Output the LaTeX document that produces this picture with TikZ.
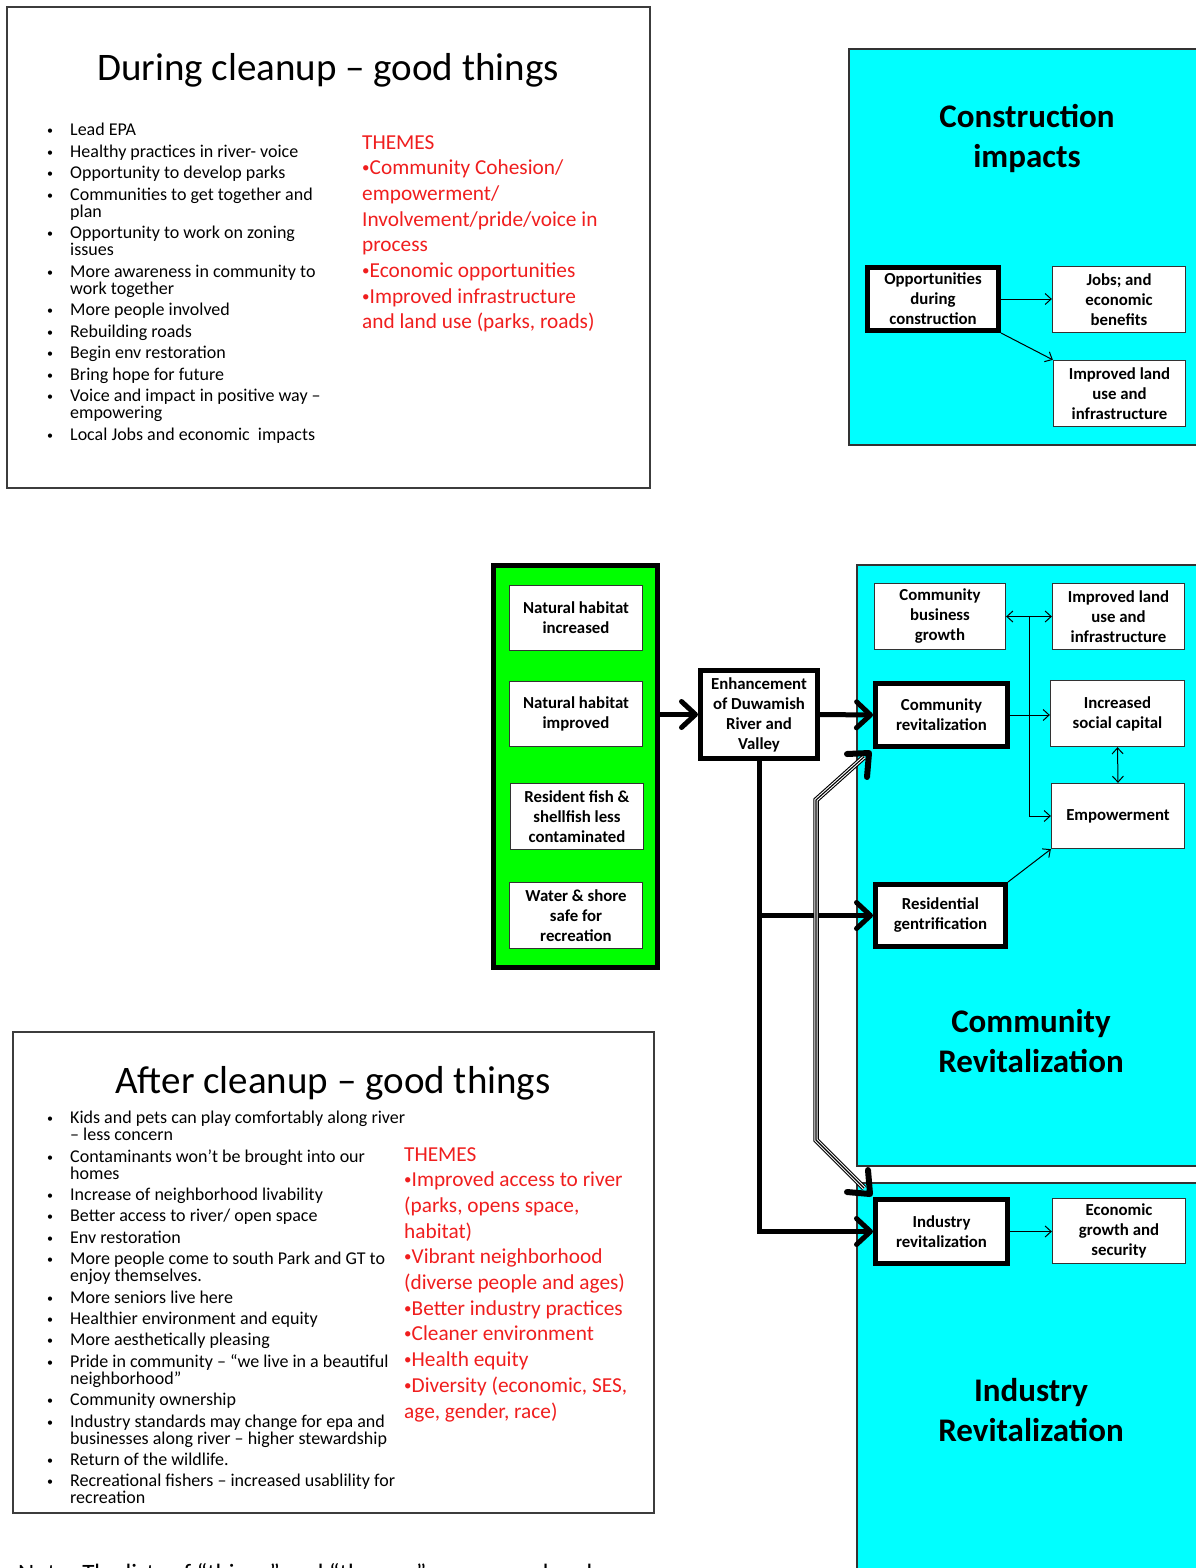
\documentclass[tikz,border=0pt]{standalone}
\usepackage{fontspec}
\setmainfont{Carlito}
\usetikzlibrary{arrows.meta,calc}
\definecolor{cyanbg}{RGB}{0,255,255}
\definecolor{greenbg}{RGB}{0,255,0}
\definecolor{themered}{RGB}{240,30,30}
\definecolor{slideedge}{RGB}{60,60,60}
\newcommand\bulA{\makebox[23pt][l]{\raisebox{1pt}{\fontsize{12}{12}\selectfont •}}}
\newcommand\cntA{\hspace*{23pt}}
\newcommand\tbul{{\fontsize{15}{15}\selectfont\raisebox{2pt}{•}}}
\begin{document}
\begin{tikzpicture}[x=1pt,y=-1pt,
  thinbox/.style={draw=black!80, line width=1.3pt, fill=white, align=center, font=\fontsize{16.8}{20}\selectfont\bfseries, inner sep=1pt},
  thickbox/.style={draw=black, line width=5pt, fill=white, align=center, font=\fontsize{16.8}{20}\selectfont\bfseries, inner sep=1pt},
  sz/.style 2 args={minimum width=#1, minimum height=#2},
  bigtitle/.style={align=center, font=\fontsize{33}{40}\selectfont\bfseries},
  slidetitle/.style={font=\fontsize{39}{44}\selectfont},
  listtxt/.style={align=left, font=\fontsize{18}{17}\selectfont, inner sep=0pt, anchor=north west},
  themetxt/.style={align=left, font=\fontsize{21.3}{25.7}\selectfont, text=themered, inner sep=0pt, anchor=north west},
  bigarrow/.style={line width=5pt, -{Straight Barb[length=14pt,width=26pt,round]}},
  thinarrow/.style={line width=1pt, -{Straight Barb[length=6pt,width=11pt]}},
  boththin/.style={line width=1pt, {Straight Barb[length=6pt,width=11pt]}-{Straight Barb[length=6pt,width=11pt]}},
  chev/.style={line width=6pt, line cap=round, line join=round},
  panel/.style={draw=black!80, line width=1.3pt, fill=cyanbg},
  slideframe/.style={draw=slideedge, line width=1.8pt},
]
\fill[white] (0,0) rectangle (1196,1568);
\useasboundingbox (0,0) rectangle (1196,1568);

% ---------- slide 1 ----------
\draw[slideframe] (7,7) rectangle (650,488);
\node[slidetitle] (t1) at (328,70) {During cleanup – good things};
\node[listtxt] (l1) at (47,123) {%
\bulA Lead EPA\\[4.5pt]
\bulA Healthy practices in river- voice\\[4.5pt]
\bulA Opportunity to develop parks\\[4.5pt]
\bulA Communities to get together and\\
\cntA plan\\[4.5pt]
\bulA Opportunity to work on zoning\\
\cntA issues\\[4.5pt]
\bulA More awareness in community to\\
\cntA work together\\[4.5pt]
\bulA More people involved\\[4.5pt]
\bulA Rebuilding roads\\[4.5pt]
\bulA Begin env restoration\\[4.5pt]
\bulA Bring hope for future\\[4.5pt]
\bulA Voice and impact in positive way –\\
\cntA empowering\\[4.5pt]
\bulA Local Jobs and economic\ \ impacts};
\node[themetxt] (th1) at (362,135) {THEMES\\
\tbul Community Cohesion/\\
empowerment/\\
Involvement/pride/voice in\\
process\\
\tbul Economic opportunities\\
\tbul Improved infrastructure\\
and land use (parks, roads)};

% ---------- slide 2 ----------
\draw[slideframe] (13,1032) rectangle (654,1513);
\node[slidetitle] (t2) at (333,1083) {After cleanup – good things};
\node[listtxt] (l2) at (47,1111) {%
\bulA Kids and pets can play comfortably along river\\
\cntA – less concern\\[4.4pt]
\bulA Contaminants won’t be brought into our\\
\cntA homes\\[4.4pt]
\bulA Increase of neighborhood livability\\[4.4pt]
\bulA Better access to river/ open space\\[4.4pt]
\bulA Env restoration\\[4.4pt]
\bulA More people come to south Park and GT to\\
\cntA enjoy themselves.\\[4.4pt]
\bulA More seniors live here\\[4.4pt]
\bulA Healthier environment and equity\\[4.4pt]
\bulA More aesthetically pleasing\\[4.4pt]
\bulA Pride in community – “we live in a beautiful\\
\cntA neighborhood”\\[4.4pt]
\bulA Community ownership\\[4.4pt]
\bulA Industry standards may change for epa and\\
\cntA businesses along river – higher stewardship\\[4.4pt]
\bulA Return of the wildlife.\\[4.4pt]
\bulA Recreational fishers – increased usablility for\\
\cntA recreation};
\node[themetxt] (th2) at (404,1147) {THEMES\\
\tbul Improved access to river\\
(parks, opens space,\\
habitat)\\
\tbul Vibrant neighborhood\\
(diverse people and ages)\\
\tbul Better industry practices\\
\tbul Cleaner environment\\
\tbul Health equity\\
\tbul Diversity (economic, SES,\\
age, gender, race)};

\node[font=\fontsize{25}{30}\selectfont, anchor=base west, inner sep=0pt] (note) at (18,1581) {Note: The lists of “things” and “themes” are merged and};

% ---------- construction panel ----------
\draw[panel] (849,49) rectangle (1210,445);
\node[bigtitle] (ct) at (1027,138) {Construction\\impacts};
\node[thickbox, sz={131pt}{63pt}] (opp) at (933,299) {Opportunities\\during\\construction};
\node[thinbox, sz={133pt}{66pt}] (jobs) at (1119,299.5) {Jobs; and\\economic\\benefits};
\node[thinbox, sz={132pt}{66pt}] (ilu1) at (1119.5,393.5) {Improved land\\use and\\infrastructure};
\draw[thinarrow] (opp.east) -- (opp.east -| jobs.west);
\draw[thinarrow] (opp.south east) -- (ilu1.north west);

% ---------- community & industry panels ----------
\draw[panel] (857,565) rectangle (1210,1166);
\draw[panel] (857,1183) rectangle (1210,1600);
\node[bigtitle] (cr) at (1031,1041) {Community\\Revitalization};
\node[bigtitle] (ir) at (1031,1410) {Industry\\Revitalization};

% ---------- green panel ----------
\node[draw=black, line width=5pt, fill=greenbg, sz={164pt}{402pt}] (green) at (575.5,766.5) {};
\node[thinbox, sz={133pt}{65pt}] (g1) at (576,618) {Natural habitat\\increased};
\node[thinbox, sz={133pt}{65pt}] (g2) at (576,714) {Natural habitat\\improved};
\node[thinbox, sz={133pt}{66pt}] (g3) at (577,816.5) {Resident fish \&\\shellfish less\\contaminated};
\node[thinbox, sz={133pt}{66pt}] (g4) at (576,915.5) {Water \& shore\\safe for\\recreation};

\node[thickbox, sz={117pt}{88pt}] (enh) at (759,714.5) {Enhancement\\of Duwamish\\River and\\Valley};

\node[thinbox, sz={131pt}{66pt}] (cbg) at (940,616.5) {Community\\business\\growth};
\node[thinbox, sz={132pt}{66pt}] (ilu2) at (1118.5,616.5) {Improved land\\use and\\infrastructure};
\node[thickbox, sz={132pt}{63pt}] (crev) at (941.5,715) {Community\\revitalization};
\node[thinbox, sz={134pt}{66pt}] (isc) at (1117.5,713.5) {Increased\\social capital};
\node[thinbox, sz={133pt}{65pt}] (emp) at (1118,816) {Empowerment};
\node[thickbox, sz={130pt}{62pt}] (rgen) at (940.5,915.5) {Residential\\gentrification};
\node[thickbox, sz={132pt}{64pt}] (irev) at (941.5,1231.5) {Industry\\revitalization};
\node[thinbox, sz={133pt}{65pt}] (econ) at (1119,1231) {Economic\\growth and\\security};

% ---------- thick connectors ----------
\draw[bigarrow] (green.east |- enh.west) -- (enh.west);
\draw[bigarrow] (enh.east) -- (crev.west);
\draw[bigarrow] (enh.south) |- (irev.west);
\draw[bigarrow] (enh.south |- rgen.west) -- (rgen.west);

% ---------- triple connector ----------
\coordinate (tb1) at (816,800);
\coordinate (tb2) at (816,1140);
\foreach \w/\c in {5.5/black,3.3/white,1.1/black}
  \draw[line width=\w pt, draw=\c, line join=miter] ([shift={(-9,8)}]crev.south west) -- (tb1) -- (tb2) -- ([shift={(-9,-9)}]irev.north west);
\draw[chev] ([shift={(-26,5)}]crev.south west) -- ([shift={(-4,4)}]crev.south west) -- ([shift={(-6,28)}]crev.south west);
\draw[chev] ([shift={(-5,-27)}]irev.north west) -- ([shift={(-3,-3)}]irev.north west) -- ([shift={(-26,-5)}]irev.north west);

% ---------- thin connectors ----------
\draw[boththin] (cbg.east) -- (ilu2.west);
\draw[thinarrow] ($(cbg.east)!0.5!(ilu2.west)$) |- (emp.west);
\draw[thinarrow] (crev.east) -- (crev.east -| isc.west);
\draw[boththin] (isc.south) -- (emp.north);
\draw[thinarrow] (rgen.north east) -- (emp.south west);
\draw[thinarrow] (irev.east) -- (irev.east -| econ.west);
\end{tikzpicture}
\end{document}
